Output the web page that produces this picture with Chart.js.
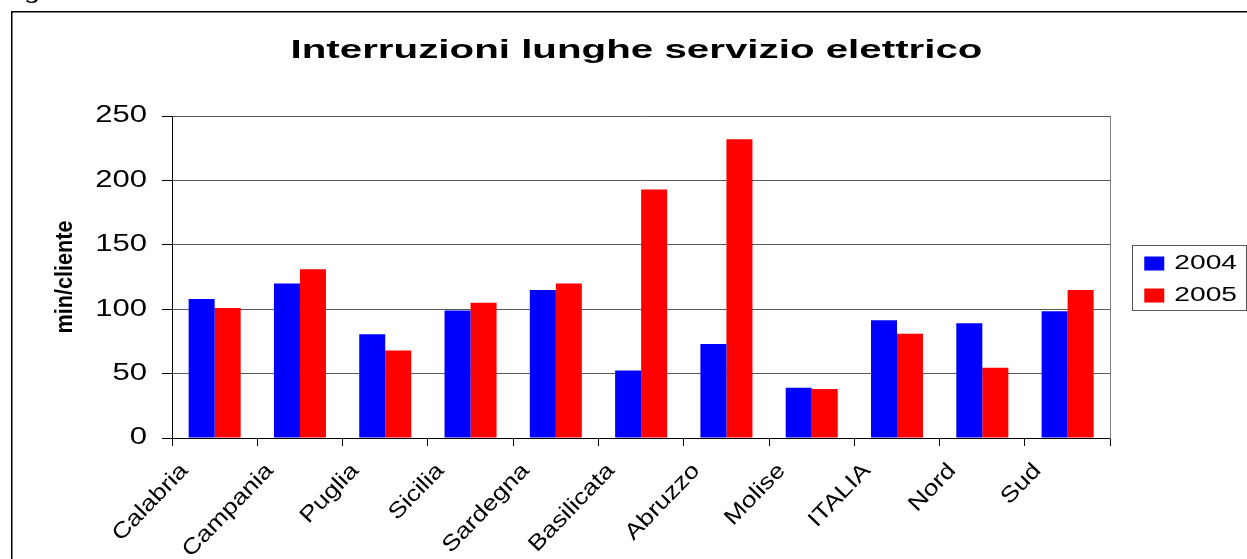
<!DOCTYPE html>
<html>
<head>
<meta charset="utf-8">
<script src="https://cdn.jsdelivr.net/npm/chart.js@4.4.1/dist/chart.umd.min.js"></script>
<style>
html,body{margin:0;padding:0;background:#fff;overflow:hidden}
#wrap{position:relative;width:1247px;height:559px}
</style>
</head>
<body>
<div id="wrap"><canvas id="c"></canvas></div>
<script>
// ---- data ----
const categories = ['Calabria','Campania','Puglia','Sicilia','Sardegna','Basilicata','Abruzzo','Molise','ITALIA','Nord','Sud'];
const values2004 = [108, 120, 80.5, 99, 115, 52.5, 73, 39, 91.5, 89, 98.5];
const values2005 = [101, 131, 68, 105, 120, 193, 232, 38, 81, 54.5, 115];
const seriesLabels = ['2004', '2005'];
const yTicks = [0, 50, 100, 150, 200, 250];
const chartTitle = 'Interruzioni lunghe servizio elettrico';
const yAxisTitle = 'min/cliente';
const topFragment = 'g';

// ---- horizontally widened lettering (as in the reference) ----
const FONT = "'Liberation Sans', Arial, sans-serif";
function stretchFor(font) {
  const m = /(\d+(?:\.\d+)?)px/.exec(font);
  if (!m) return 1;
  const size = +m[1];
  const bold = /bold|700/.test(font);
  if (bold) return size >= 24 ? 1.55 : 0.94;
  if (size >= 22.5) return 1.35;
  if (size <= 20.5) return 1.41;
  return 1.2;
}
const canvas = document.getElementById('c');
const ctx = canvas.getContext('2d');
const origFill = ctx.fillText;
const origMeasure = ctx.measureText;
ctx.fillText = function (text, x, y, maxWidth) {
  const s = stretchFor(this.font);
  this.save();
  this.translate(x, y);
  this.scale(s, 1);
  if (maxWidth === undefined || maxWidth === null) origFill.call(this, text, 0, 0);
  else origFill.call(this, text, 0, 0, maxWidth / s);
  this.restore();
};
ctx.measureText = function (text) {
  const m = origMeasure.call(this, text);
  const s = stretchFor(this.font);
  return {
    width: m.width * s,
    actualBoundingBoxAscent: m.actualBoundingBoxAscent,
    actualBoundingBoxDescent: m.actualBoundingBoxDescent,
    actualBoundingBoxLeft: m.actualBoundingBoxLeft * s,
    actualBoundingBoxRight: m.actualBoundingBoxRight * s,
    fontBoundingBoxAscent: m.fontBoundingBoxAscent,
    fontBoundingBoxDescent: m.fontBoundingBoxDescent
  };
};

Chart.defaults.font.family = FONT;
Chart.defaults.color = '#000';

const framePlugin = {
  id: 'frame',
  beforeDraw(chart) {
    const c = chart.ctx;
    c.save();
    c.fillStyle = '#fff';
    c.fillRect(0, 0, chart.width, chart.height);
    c.strokeStyle = '#000';
    c.lineWidth = 1.5;
    c.beginPath();
    c.moveTo(11.75, chart.height + 5);
    c.lineTo(11.75, 11.75);
    c.lineTo(chart.width + 5, 11.75);
    c.stroke();
    c.fillStyle = '#000';
    c.font = '20px ' + FONT;
    c.textAlign = 'left';
    c.textBaseline = 'alphabetic';
    c.fillText(topFragment, 24, -1);
    c.restore();
  },
  afterDraw(chart) {
    const lg = chart.legend;
    const hb = lg.legendHitBoxes;
    if (!hb || !hb.length) return;
    const c = chart.ctx;
    c.save();
    c.strokeStyle = '#555';
    c.lineWidth = 1;
    const top = Math.round(hb[0].top - 9);
    const last = hb[hb.length - 1];
    const bottom = Math.round(last.top + last.height + 4);
    c.strokeRect(Math.round(lg.left) + 0.5, top + 0.5, Math.round(lg.right - lg.left) - 1, bottom - top);
    c.restore();
  }
};

new Chart(ctx, {
  type: 'bar',
  data: {
    labels: categories,
    datasets: [
      { label: seriesLabels[0], data: values2004, backgroundColor: '#0000ff', borderWidth: 0 },
      { label: seriesLabels[1], data: values2005, backgroundColor: '#ff0000', borderWidth: 0 }
    ]
  },
  options: {
    responsive: true,
    maintainAspectRatio: false,
    animation: false,
    events: [],
    categoryPercentage: 0.61,
    barPercentage: 1,
    layout: { padding: { left: 26, top: 0, right: 0, bottom: 0 } },
    plugins: {
      tooltip: { enabled: false },
      title: {
        display: true,
        text: chartTitle,
        color: '#000',
        font: { size: 26, weight: 'bold' },
        padding: { top: 35, bottom: 49.8 }
      },
      legend: {
        position: 'right',
        labels: { boxWidth: 20, boxHeight: 14, padding: 12, color: '#000', font: { size: 20 } }
      }
    },
    scales: {
      x: {
        offset: true,
        ticks: { color: '#000', font: { size: 22 }, minRotation: 46, maxRotation: 46, autoSkip: false, padding: 12, labelOffset: -30 },
        grid: { offset: true, drawOnChartArea: false, tickLength: 8, color: '#000', tickColor: '#000' },
        border: { color: '#000', width: 1 },
        afterFit(s) { s.height = 559 - 438; }
      },
      y: {
        min: 0,
        max: 250,
        afterBuildTicks(s) { s.ticks = yTicks.map(v => ({ value: v })); },
        ticks: { color: '#000', font: { size: 23 }, padding: 15 },
        grid: { color: '#5a5a5a', tickColor: '#000', tickLength: 10, lineWidth: 1 },
        border: { color: '#000', width: 1 },
        title: { display: true, text: yAxisTitle, color: '#000', font: { size: 23, weight: 'bold' }, padding: { top: 26, bottom: 0 } },
        afterFit(s) { s.width = 146; }
      },
      y2: {
        position: 'right',
        display: true,
        grid: { display: false, drawTicks: false },
        ticks: { display: false },
        border: { display: true, color: '#7f7f7f', width: 1 },
        afterFit(s) { s.width = 22; }
      }
    }
  },
  plugins: [framePlugin]
});
</script>
</body>
</html>
